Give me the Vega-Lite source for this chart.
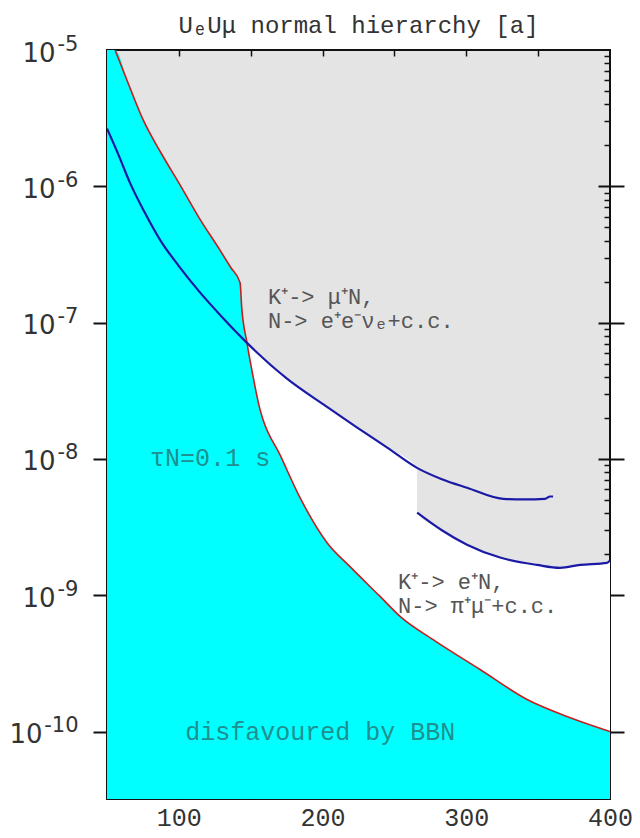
{
  "$schema": "https://vega.github.io/schema/vega-lite/v6.json",
  "width": 503,
  "height": 749,
  "autosize": {"type": "none"},
  "padding": {"left": 107, "top": 50, "right": 30, "bottom": 39},
  "background": "white",
  "title": {"text": "UₑUμ normal hierarchy [a]", "font": "Liberation Mono", "fontSize": 24, "fontWeight": "normal", "color": "#333333", "anchor": "middle", "baseline": "alphabetic", "offset": 0, "dy": 24},
  "config": {
    "view": {"fill": "#e4e4e4", "stroke": "#111111", "strokeWidth": 2},
    "axis": {"grid": false, "domain": false, "title": null, "labelFlush": false, "labelOverlap": false}
  },
  "datasets": {
    "bbn": [
      {"x": 50, "y": 1e-5},
      {"x": 55.6, "y": 1e-5},
      {"x": 65, "y": 5.6e-6},
      {"x": 75, "y": 3.1e-6},
      {"x": 87, "y": 1.8e-6},
      {"x": 100, "y": 1.06e-6},
      {"x": 114, "y": 5.9e-7},
      {"x": 128.6, "y": 3.4e-7},
      {"x": 136, "y": 2.55e-7},
      {"x": 142.6, "y": 1.96e-7},
      {"x": 143.7, "y": 1.31e-7},
      {"x": 147.4, "y": 7.1e-8},
      {"x": 151.5, "y": 4.1e-8},
      {"x": 156.5, "y": 2.3e-8},
      {"x": 158.6, "y": 1.94e-8},
      {"x": 170.4, "y": 1.07e-8},
      {"x": 184.3, "y": 5.2e-9},
      {"x": 203.1, "y": 2.43e-9},
      {"x": 219.1, "y": 1.62e-9},
      {"x": 240, "y": 9.8e-10},
      {"x": 253.9, "y": 7.0e-10},
      {"x": 276.9, "y": 4.72e-10},
      {"x": 309.6, "y": 2.85e-10},
      {"x": 342.3, "y": 1.72e-10},
      {"x": 370.1, "y": 1.29e-10},
      {"x": 400, "y": 1.0e-10}
    ],
    "blue": [
      {"seg": 1, "x": 50, "y": 2.65e-6},
      {"seg": 1, "x": 58, "y": 1.7e-6},
      {"seg": 1, "x": 66, "y": 1.06e-6},
      {"seg": 1, "x": 76, "y": 6.5e-7},
      {"seg": 1, "x": 86.9, "y": 4.05e-7},
      {"seg": 1, "x": 100, "y": 2.6e-7},
      {"seg": 1, "x": 114.4, "y": 1.68e-7},
      {"seg": 1, "x": 130, "y": 1.1e-7},
      {"seg": 1, "x": 147.4, "y": 7.1e-8},
      {"seg": 1, "x": 175, "y": 3.9e-8},
      {"seg": 1, "x": 203.1, "y": 2.41e-8},
      {"seg": 1, "x": 223.3, "y": 1.72e-8},
      {"seg": 1, "x": 245, "y": 1.21e-8},
      {"seg": 1, "x": 265.7, "y": 8.6e-9},
      {"seg": 1, "x": 283, "y": 7.1e-9},
      {"seg": 1, "x": 300.5, "y": 6.15e-9},
      {"seg": 1, "x": 325.6, "y": 5.1e-9},
      {"seg": 1, "x": 340, "y": 5.05e-9},
      {"seg": 1, "x": 354.8, "y": 5.1e-9},
      {"seg": 1, "x": 358.3, "y": 5.3e-9},
      {"seg": 1, "x": 360.4, "y": 5.3e-9},
      {"seg": 2, "x": 265.8, "y": 4.04e-9},
      {"seg": 2, "x": 283, "y": 3.0e-9},
      {"seg": 2, "x": 300.5, "y": 2.35e-9},
      {"seg": 2, "x": 323.5, "y": 1.89e-9},
      {"seg": 2, "x": 349.2, "y": 1.67e-9},
      {"seg": 2, "x": 365.2, "y": 1.59e-9},
      {"seg": 2, "x": 379.2, "y": 1.67e-9},
      {"seg": 2, "x": 397.9, "y": 1.73e-9},
      {"seg": 2, "x": 400, "y": 1.8e-9}
    ],
    "notes_gray": [
      {"x": 162, "y": 1.55e-7, "t": "K⁺-> μ⁺N,"},
      {"x": 162, "y": 1.03e-7, "t": "N-> e⁺e⁻νₑ+c.c."},
      {"x": 252.5, "y": 1.26e-9, "t": "K⁺-> e⁺N,"},
      {"x": 252.5, "y": 8.4e-10, "t": "N-> π⁺μ⁻+c.c."}
    ],
    "notes_teal": [
      {"x": 80, "y": 1.02e-8, "t": "τN=0.1 s"},
      {"x": 104.5, "y": 1e-10, "t": "disfavoured by BBN"}
    ]
  },
  "layer": [
    {
      "data": {"name": "blue"},
      "transform": [{"filter": "(datum.seg == 1 && datum.x >= 147.4 && datum.x <= 265.7) || datum.seg == 2"}],
      "mark": {"type": "area", "color": "#ffffff", "clip": true, "interpolate": "monotone"},
      "encoding": {
        "x": {"field": "x", "type": "quantitative", "scale": {"domain": [50, 400], "nice": false, "zero": false},
              "axis": {"orient": "bottom", "values": [100, 200, 300, 400], "ticks": false, "tickSize": 0, "labelFont": "Liberation Mono", "labelFontSize": 25, "labelColor": "#333333", "labelPadding": 6}},
        "y": {"field": "y", "type": "quantitative", "scale": {"type": "log", "domain": [3.2e-11, 1e-5], "nice": false},
              "axis": {"orient": "left", "values": [1e-5, 1e-6, 1e-7, 1e-8, 1e-9, 1e-10], "ticks": false, "tickSize": 0, "labelExpr": "'10'", "labelFont": "DejaVu Sans", "labelFontSize": 26, "labelColor": "#333333",
                       "labelPadding": {"condition": {"test": "datum.value < 5e-10", "value": 65}, "value": 52},
                       "labelOffset": 3, "labelBaseline": "middle", "labelAlign": "right"}},
        "y2": {"datum": 3.2e-11}
      }
    },
    {
      "data": {"name": "bbn"},
      "mark": {"type": "area", "color": "#00ffff", "clip": true, "interpolate": "monotone"},
      "encoding": {
        "x": {"field": "x", "type": "quantitative", "scale": {"domain": [50, 400], "nice": false, "zero": false},
              "axis": {"orient": "bottom", "values": [100, 150, 200, 250, 300, 350], "labels": false, "tickSize": -6, "tickColor": "#111111", "tickWidth": 1.5}},
        "y": {"field": "y", "type": "quantitative", "scale": {"type": "log", "domain": [3.2e-11, 1e-5], "nice": false},
              "axis": {"orient": "left", "values": [1e-5, 1e-6, 1e-7, 1e-8, 1e-9, 1e-10], "ticks": false, "tickSize": 0, "labelExpr": "'-' + format(-log(datum.value)/LN10, '.0f')", "labelFont": "DejaVu Sans", "labelFontSize": 21, "labelColor": "#333333", "labelPadding": 29, "labelOffset": -6, "labelBaseline": "middle", "labelAlign": "right"}},
        "y2": {"datum": 3.2e-11}
      }
    },
    {
      "data": {"name": "bbn"},
      "transform": [{"filter": "datum.x >= 55"}],
      "mark": {"type": "line", "color": "#c42020", "strokeWidth": 1.6, "clip": true, "interpolate": "monotone"},
      "encoding": {
        "x": {"field": "x", "type": "quantitative", "scale": {"domain": [50, 400], "nice": false, "zero": false},
              "axis": {"orient": "top", "values": [100, 150, 200, 250, 300, 350], "labels": false, "tickSize": -6, "tickColor": "#111111", "tickWidth": 1.5}},
        "y": {"field": "y", "type": "quantitative", "scale": {"type": "log", "domain": [3.2e-11, 1e-5], "nice": false},
              "axis": {"orient": "left", "values": [1e-6, 1e-7, 1e-8, 1e-9, 1e-10], "labels": false, "tickSize": 26, "offset": -12, "tickColor": "#111111", "tickWidth": 2}}
      }
    },
    {
      "data": {"name": "blue"},
      "mark": {"type": "line", "color": "#1a1aa6", "strokeWidth": 2.2, "clip": true, "interpolate": "monotone"},
      "encoding": {
        "x": {"field": "x", "type": "quantitative", "scale": {"domain": [50, 400], "nice": false, "zero": false}, "axis": null},
        "y": {"field": "y", "type": "quantitative", "scale": {"type": "log", "domain": [3.2e-11, 1e-5], "nice": false},
              "axis": {"orient": "left", "labels": false, "tickSize": -6, "tickColor": "#111111", "tickWidth": 1.5,
                       "values": [2e-6, 3e-6, 4e-6, 5e-6, 6e-6, 7e-6, 8e-6, 9e-6, 2e-7, 3e-7, 4e-7, 5e-7, 6e-7, 7e-7, 8e-7, 9e-7, 2e-8, 3e-8, 4e-8, 5e-8, 6e-8, 7e-8, 8e-8, 9e-8, 2e-9, 3e-9, 4e-9, 5e-9, 6e-9, 7e-9, 8e-9, 9e-9, 2e-10, 3e-10, 4e-10, 5e-10, 6e-10, 7e-10, 8e-10, 9e-10, 4e-11, 5e-11, 6e-11, 7e-11, 8e-11, 9e-11]}},
        "detail": {"field": "seg", "type": "nominal"}
      }
    },
    {
      "data": {"name": "notes_gray"},
      "mark": {"type": "text", "align": "left", "baseline": "middle", "font": "Liberation Mono", "fontSize": 22, "color": "#555555"},
      "encoding": {
        "x": {"field": "x", "type": "quantitative", "scale": {"domain": [50, 400], "nice": false, "zero": false}, "axis": null},
        "y": {"field": "y", "type": "quantitative", "scale": {"type": "log", "domain": [3.2e-11, 1e-5], "nice": false},
              "axis": {"orient": "right", "values": [1e-6, 1e-7, 1e-8, 1e-9, 1e-10], "labels": false, "tickSize": 26, "offset": -12, "tickColor": "#111111", "tickWidth": 2}},
        "text": {"field": "t", "type": "nominal"}
      }
    },
    {
      "data": {"name": "notes_teal"},
      "mark": {"type": "text", "align": "left", "baseline": "middle", "font": "Liberation Mono", "fontSize": 25, "color": "#1f8f8f"},
      "encoding": {
        "x": {"field": "x", "type": "quantitative", "scale": {"domain": [50, 400], "nice": false, "zero": false}, "axis": null},
        "y": {"field": "y", "type": "quantitative", "scale": {"type": "log", "domain": [3.2e-11, 1e-5], "nice": false},
              "axis": {"orient": "right", "labels": false, "tickSize": -6, "tickColor": "#111111", "tickWidth": 1.5,
                       "values": [2e-6, 3e-6, 4e-6, 5e-6, 6e-6, 7e-6, 8e-6, 9e-6, 2e-7, 3e-7, 4e-7, 5e-7, 6e-7, 7e-7, 8e-7, 9e-7, 2e-8, 3e-8, 4e-8, 5e-8, 6e-8, 7e-8, 8e-8, 9e-8, 2e-9, 3e-9, 4e-9, 5e-9, 6e-9, 7e-9, 8e-9, 9e-9, 2e-10, 3e-10, 4e-10, 5e-10, 6e-10, 7e-10, 8e-10, 9e-10, 4e-11, 5e-11, 6e-11, 7e-11, 8e-11, 9e-11]}},
        "text": {"field": "t", "type": "nominal"}
      }
    }
  ],
  "resolve": {"axis": {"x": "independent", "y": "independent"}}
}
